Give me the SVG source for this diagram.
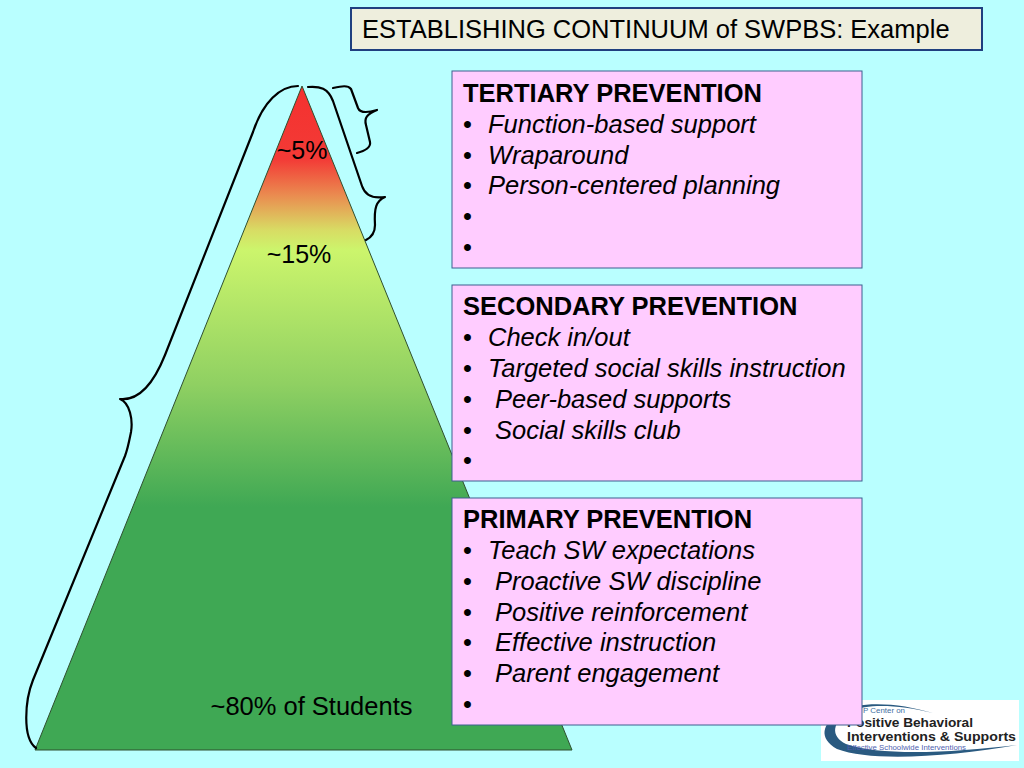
<svg xmlns="http://www.w3.org/2000/svg" width="1024" height="768" viewBox="0 0 1024 768">
<style>
text{font-family:"Liberation Sans",Arial,sans-serif;fill:#000}
.t{font-size:25.5px}
.h{font-size:25.5px;font-weight:bold}
.i{font-size:25.5px;font-style:italic}
.box{fill:#ffccff;stroke:#3f5f8f;stroke-width:1}
.brace{fill:none;stroke:#000;stroke-width:2.2;stroke-linecap:round;stroke-linejoin:round}
</style>
<defs>
<linearGradient id="pyr" gradientUnits="userSpaceOnUse" x1="0" y1="86" x2="0" y2="750">
<stop offset="0" stop-color="#f4312f"/>
<stop offset="0.11" stop-color="#f33a36"/>
<stop offset="0.165" stop-color="#ea8c50"/>
<stop offset="0.217" stop-color="#d8dc64"/>
<stop offset="0.247" stop-color="#ccf56c"/>
<stop offset="0.45" stop-color="#8fd062"/>
<stop offset="0.634" stop-color="#3fa854"/>
<stop offset="1" stop-color="#3fa854"/>
</linearGradient>
</defs>
<rect x="0" y="0" width="1024" height="768" fill="#b9ffff"/>
<g id="logo">
<rect x="821" y="700" width="198" height="61" fill="#ffffff"/>
<path d="M933 713C900 703 860 700 840 712C822 724 818 738 837 749C870 762 950 757 1017 745C950 753 880 756 846 744C830 736 832 722 850 711C870 703 900 705 933 713Z" fill="#2a5a80"/>
<text x="863" y="713" textLength="42" lengthAdjust="spacingAndGlyphs" style="font-size:8px;fill:#3f6f9f">P Center on</text>
<text x="847" y="726.500" textLength="126" lengthAdjust="spacingAndGlyphs" style="font-size:12.5px;font-weight:bold;fill:#222">Positive Behavioral</text>
<text x="847" y="740.500" textLength="169" lengthAdjust="spacingAndGlyphs" style="font-size:12.5px;font-weight:bold;fill:#222">Interventions &amp; Supports</text>
<text x="847" y="749.500" textLength="119" lengthAdjust="spacingAndGlyphs" style="font-size:6.5px;fill:#4f5fb0">Effective Schoolwide Interventions</text>
</g>
<g id="pyramid">
<polygon points="302,86 35,750 572,750" fill="url(#pyr)" stroke="#2f4f2f" stroke-width="1"/>
<text class="t" x="302" y="159" text-anchor="middle" style="font-size:25px">~5%</text>
<text class="t" x="299" y="263" text-anchor="middle" style="font-size:25px">~15%</text>
<text class="t" x="311.500" y="715" text-anchor="middle">~80% of Students</text>
</g>
<g id="connectors">
<path class="brace" d="M298 86C280 86 263 102 253 132L165 355C155 380 140 401 120 399C130 403 133 420 131 432C129 442 128 448 125 456L33 680C25 700 22 738 36 748"/>
<path class="brace" d="M308 87C320 86 328 88 333 101L362 186C365 195 372 199 385 197C376 201 374 208 375 225C375 232 372 237 366 240"/>
<path class="brace" d="M333 88C342 86 348 85 351 89L358 108C360 113 367 113 377 110C367 114 364 118 366 125L370 142C371 147 365 151 357 153"/>
</g>
<g id="title">
<rect x="351" y="8" width="631" height="42" fill="#eeeedd" stroke="#1f3f7f" stroke-width="2"/>
<text class="t" x="362" y="38">ESTABLISHING CONTINUUM of SWPBS: Example</text>
</g>
<g id="tertiary">
<rect class="box" x="452" y="71" width="410" height="197"/>
<text class="h" x="463" y="102">TERTIARY PREVENTION</text>
<text class="t" x="463" y="133">•</text><text class="i" x="488" y="133">Function-based support</text>
<text class="t" x="463" y="164">•</text><text class="i" x="488" y="164">Wraparound</text>
<text class="t" x="463" y="194">•</text><text class="i" x="488" y="194">Person-centered planning</text>
<text class="t" x="463" y="225">•</text>
<text class="t" x="463" y="256">•</text>
</g>
<g id="secondary">
<rect class="box" x="452" y="285" width="410" height="196"/>
<text class="h" x="463" y="315">SECONDARY PREVENTION</text>
<text class="t" x="463" y="346">•</text><text class="i" x="488" y="346">Check in/out</text>
<text class="t" x="463" y="377">•</text><text class="i" x="488" y="377">Targeted social skills instruction</text>
<text class="t" x="463" y="408">•</text><text class="i" x="495" y="408">Peer-based supports</text>
<text class="t" x="463" y="439">•</text><text class="i" x="495" y="439">Social skills club</text>
<text class="t" x="463" y="469">•</text>
</g>
<g id="primary">
<rect class="box" x="452" y="498" width="410" height="227"/>
<text class="h" x="463" y="528">PRIMARY PREVENTION</text>
<text class="t" x="463" y="559">•</text><text class="i" x="488" y="559">Teach SW expectations</text>
<text class="t" x="463" y="590">•</text><text class="i" x="495" y="590">Proactive SW discipline</text>
<text class="t" x="463" y="621">•</text><text class="i" x="495" y="621">Positive reinforcement</text>
<text class="t" x="463" y="651">•</text><text class="i" x="495" y="651">Effective instruction</text>
<text class="t" x="463" y="682">•</text><text class="i" x="495" y="682">Parent engagement</text>
<text class="t" x="463" y="713">•</text>
</g>
</svg>
